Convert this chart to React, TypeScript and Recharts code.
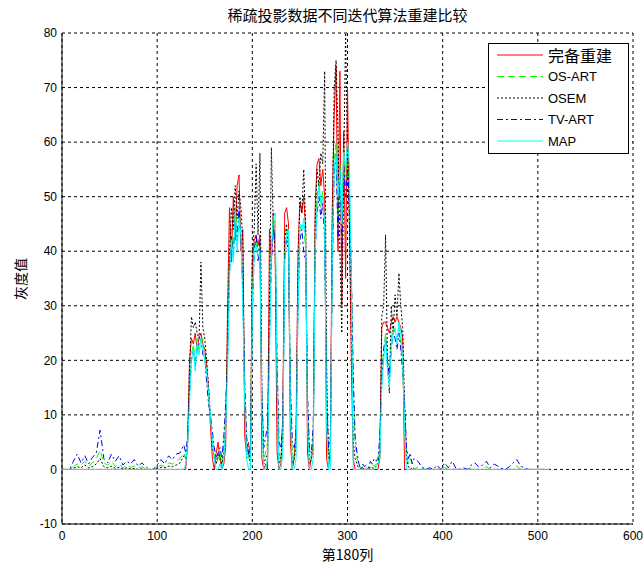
import { LineChart, Line, XAxis, YAxis, CartesianGrid } from 'recharts';

// column index (第180列 profile), sparse at the flat ends, every 2 columns in the object
const cols = [
  0, 4, 8, 12, 16, 20, 24, 28, 32, 36, 40, 44, 48, 52, 56, 60, 64, 68, 72, 76, 80, 84, 88, 92, 96, 100, 104, 108, 112, 116, 120, 124, 128,
  130, 132, 134, 136, 138, 140, 142, 144, 146, 148,
  150, 152, 154, 156, 158, 160, 162, 164, 166, 168,
  170, 172, 174, 176, 178, 180, 182, 184, 186, 188,
  190, 192, 194, 196, 198, 200, 202, 204, 206, 208,
  210, 212, 214, 216, 218, 220, 222, 224, 226, 228,
  230, 232, 234, 236, 238, 240, 242, 244, 246, 248,
  250, 252, 254, 256, 258, 260, 262, 264, 266, 268,
  270, 272, 274, 276, 278, 280, 282, 284, 286, 288,
  290, 292, 294, 296, 298, 300, 302, 304, 306, 308,
  310, 312, 314, 316, 318, 320, 322, 324, 326, 328,
  330, 332, 334, 336, 338, 340, 342, 344, 346, 348,
  350, 352, 354, 356, 358, 360, 362, 364, 366, 368,
  370,
  374, 378, 382, 386, 390, 394, 398, 402, 406, 410, 414, 418, 422, 426, 430, 434, 438, 442, 446, 450,
  454, 458, 462, 466, 470, 474, 478, 482, 486, 490, 494, 498, 502, 506, 510, 512,
];

const fullRecon = [
  0, 0, 0, 0, 0, 0, 0, 0, 0, 0, 0, 0, 0, 0, 0, 0, 0, 0, 0, 0, 0, 0, 0, 0, 0, 0, 0, 0, 0, 0, 0, 0, 0,
  0, 5, 20, 24, 23, 25, 22, 24, 25, 23,
  22, 19, 15, 8, 2, 0, 3, 5, 2, 0,
  1, 4, 30, 48, 38, 50, 42, 52, 54, 40,
  44, 6, 3, 5, 2, 38, 42, 43, 41, 43,
  2, 0, 1, 0, 44, 38, 47, 40, 3, 0,
  1, 10, 47, 48, 45, 5, 0, 2, 8, 40,
  49, 47, 50, 44, 3, 0, 2, 5, 48, 56,
  57, 52, 55, 50, 2, 0, 4, 48, 65, 74,
  40, 73, 30, 62, 35, 70, 45, 20, 2, 0,
  0, 0, 0, 0, 0, 0, 0, 0, 0, 0,
  0, 0, 2, 26, 27, 27, 26, 25, 27, 28,
  27, 28, 27, 26, 24, 0, 0, 0, 0, 0,
  0,
  0, 0, 0, 0, 0, 0, 0, 0, 0, 0, 0, 0, 0, 0, 0, 0, 0, 0, 0, 0,
  0, 0, 0, 0, 0, 0, 0, 0, 0, 0, 0, 0, 0, 0, 0, 0,
];

const osArt = [
  0, 0, 0, 0.5, 1, 0.8, 1.5, 0.6, 1.2, 2, 3.5, 1.2, 0.8, 1.5, 0.5, 1, 0.3, 0.8, 0.4, 0.6, 0.2, 0.5, 0.1, 0, 0, 0.3, 0.8, 0.5, 1.2, 1, 1.5, 2, 3,
  2, 4, 15, 21, 23, 20, 24, 22, 23, 24,
  20, 17, 13, 9, 6, 3, 1, 2, 3, 1,
  5, 10, 22, 38, 44, 40, 48, 43, 47, 44,
  32, 15, 5, 2, 3, 32, 41, 42, 40, 41,
  12, 2, 3, 5, 25, 41, 45, 46, 18, 3,
  2, 6, 40, 44, 43, 14, 3, 2, 5, 32,
  44, 45, 45, 40, 12, 3, 2, 6, 42, 50,
  53, 48, 51, 44, 12, 3, 4, 38, 57, 60,
  45, 56, 42, 59, 52, 58, 50, 38, 15, 5,
  2, 1, 0, 0.5, 0, 0.3, 0, 0.5, 1, 0.5,
  1, 1, 4, 18, 22, 25, 20, 18, 24, 26,
  25, 24, 26, 23, 18, 10, 3, 1, 2, 1,
  0,
  0.5, 0.3, 0, 0, 0, 0, 0, 0.4, 0, 0, 0, 0, 0, 0, 0.3, 0, 0, 0, 0.5, 0,
  0, 0, 0, 0, 0, 0, 0.6, 0, 0, 0, 0, 0, 0, 0, 0, 0,
];

const osem = [
  0, 0, 0, 0.2, 0.5, 0.3, 0.8, 0.3, 0.5, 1, 2, 0.5, 0.3, 0.6, 0.2, 0.4, 0.1, 0.3, 0.1, 0.2, 0, 0.1, 0, 0, 0, 0.2, 0.4, 0.3, 0.6, 0.5, 0.8, 1.2, 2.5,
  2, 5, 18, 28, 26, 27, 25, 24, 38, 26,
  24, 20, 15, 10, 4, 2, 1, 3, 2, 1,
  3, 8, 25, 40, 48, 44, 52, 46, 51, 48,
  42, 12, 2, 3, 1, 40, 44, 56, 43, 58,
  15, 1, 2, 3, 30, 59, 45, 40, 12, 1,
  2, 5, 42, 45, 40, 10, 1, 2, 4, 35,
  50, 47, 55, 45, 10, 1, 2, 3, 45, 55,
  52, 58, 56, 73, 20, 2, 2, 45, 70, 75,
  62, 40, 25, 55, 80, 58, 45, 25, 5, 2,
  1, 0, 0, 0.3, 0, 0, 0, 0.5, 0.3, 0.2,
  0.5, 1, 3, 28, 30, 43, 20, 14, 30, 25,
  32, 28, 36, 30, 26, 12, 2, 0.5, 0, 0.3,
  0,
  0, 0, 0, 0, 0, 0, 0, 0, 0, 0, 0, 0, 0, 0, 0, 0, 0, 0, 0, 0,
  0, 0, 0, 0, 0, 0, 0, 0, 0, 0, 0, 0, 0, 0, 0, 0,
];

const tvArt = [
  0, 0, 0, 1.5, 2.8, 1.2, 2.5, 1, 2.2, 3, 7.2, 2, 1.2, 2.8, 1.5, 2.5, 0.8, 1.5, 1, 1.8, 0.6, 1.2, 0.5, 0, 0, 0.8, 1.8, 1, 2.5, 1.8, 2.8, 3, 4.5,
  3, 6, 14, 20, 22, 19, 22, 23, 24, 21,
  21, 16, 12, 10, 7, 4, 2, 3, 4, 2,
  6, 12, 20, 36, 43, 39, 46, 42, 48, 42,
  33, 16, 6, 3, 4, 28, 40, 43, 38, 42,
  14, 4, 6, 8, 24, 38, 44, 42, 20, 5,
  4, 8, 38, 42, 40, 16, 5, 4, 6, 30,
  42, 44, 40, 38, 14, 4, 3, 8, 40, 47,
  50, 46, 49, 42, 14, 4, 6, 36, 54, 58,
  42, 55, 40, 56, 50, 55, 48, 36, 18, 6,
  3, 1, 0, 1, 0.5, 0.8, 0.3, 1.5, 1, 2,
  1.5, 2, 6, 16, 22, 24, 20, 17, 22, 25,
  24, 22, 25, 22, 18, 12, 4, 2, 3, 1,
  2,
  1.5, 0.5, 0, 0.3, 0, 0.8, 0, 1.2, 0.3, 1.5, 0.2, 0, 0.3, 0, 0.8, 1.2, 0.4, 0.8, 1.5, 0.3,
  1, 0.6, 0.2, 0, 0.5, 1.2, 1.8, 0.6, 0.3, 0, 0, 0, 0, 0, 0, 0,
];

const mapRecon = [
  0, 0, 0, 0, 0, 0, 0, 0, 0, 0, 0, 0, 0, 0, 0, 0, 0, 0, 0, 0, 0, 0, 0, 0, 0, 0, 0, 0, 0, 0, 0, 0, 0,
  1, 5, 12, 20, 22, 18, 23, 21, 24, 22,
  20, 18, 14, 10, 5, 2, 0, 0, 1, 0,
  2, 8, 18, 35, 42, 38, 47, 40, 46, 43,
  30, 12, 2, 0, 0, 30, 40, 41, 39, 40,
  10, 0, 0, 2, 20, 40, 46, 47, 15, 0,
  0, 3, 38, 43, 44, 10, 0, 0, 2, 30,
  45, 44, 46, 42, 8, 0, 0, 2, 40, 48,
  52, 49, 50, 45, 8, 0, 0, 40, 55, 58,
  50, 55, 45, 58, 55, 60, 56, 35, 0, 0,
  0, 0, 0, 0, 0, 0, 0, 0, 0, 0,
  0.5, 1, 2, 15, 20, 24, 18, 15, 22, 25,
  26, 23, 27, 25, 20, 8, 0, 0, 0, 0,
  0,
  0, 0, 0, 0, 0, 0, 0, 0, 0, 0, 0, 0, 0, 0, 0, 0, 0, 0, 0, 0,
  0, 0, 0, 0, 0, 0, 0, 0, 0, 0, 0, 0, 0, 0, 0, 0,
];

const xTicks = [0, 100, 200, 300, 400, 500, 600];
const yTicks = [-10, 0, 10, 20, 30, 40, 50, 60, 70, 80];

const series = [
  { key: 'full', name: '完备重建', color: '#ff0000', dash: undefined },
  { key: 'osart', name: 'OS-ART', color: '#00ff00', dash: '7 4' },
  { key: 'osem', name: 'OSEM', color: '#000000', dash: '2 2' },
  { key: 'tvart', name: 'TV-ART', color: '#0000ff', dash: '6 3 2 3' },
  { key: 'map', name: 'MAP', color: '#00ffff', dash: undefined },
];

const data = cols.map((c, i) => ({
  col: c,
  full: fullRecon[i],
  osart: osArt[i],
  osem: osem[i],
  tvart: tvArt[i],
  map: mapRecon[i],
}));

const latin = '"Liberation Sans", Arial, sans-serif';
const cjk = '"Noto Sans CJK SC", sans-serif';

function LegendBox() {
  return (
    <svg width={141} height={111} style={{ position: 'absolute', left: 488, top: 43 }}>
      <rect x={0.5} y={0.5} width={140} height={110} fill="#fff" stroke="#000" />
      {series.map((s, i) => {
        const y = 12 + i * 21.5;
        return (
          <g key={s.key}>
            <line x1={9} x2={55} y1={y} y2={y} stroke={s.color} strokeDasharray={s.dash} />
            <text
              x={60}
              y={y}
              dominantBaseline="central"
              fontFamily={i === 0 ? cjk : latin}
              fontSize={i === 0 ? 16 : 13}
              fill="#000"
            >
              {s.name}
            </text>
          </g>
        );
      })}
    </svg>
  );
}

export default function App() {
  return (
    <div style={{ position: 'absolute', left: 0, top: 0, width: 643, height: 566, background: '#fff' }}>
      <LineChart width={643} height={566} data={data} margin={{ top: 33, right: 10, bottom: 0, left: 0 }}>
        <CartesianGrid stroke="#000" strokeDasharray="3 3" />
        <XAxis
          dataKey="col"
          type="number"
          domain={[0, 600]}
          ticks={xTicks}
          interval={0}
          tickLine={false}
          tickSize={5}
          tickMargin={2}
          axisLine={{ stroke: '#000' }}
          tick={{ fill: '#000', fontSize: 12, fontFamily: latin }}
          height={42}
        />
        <XAxis xAxisId="top" orientation="top" type="number" domain={[0, 600]} ticks={xTicks} tick={false} tickLine={false} axisLine={{ stroke: '#000' }} height={0} />
        <YAxis
          type="number"
          domain={[-10, 80]}
          ticks={yTicks}
          interval={0}
          tickLine={false}
          tickSize={5}
          tickMargin={0}
          axisLine={{ stroke: '#000' }}
          tick={{ fill: '#000', fontSize: 12, fontFamily: latin }}
          width={62}
        />
        <YAxis yAxisId="right" orientation="right" type="number" domain={[-10, 80]} tick={false} tickLine={false} axisLine={{ stroke: '#000' }} width={0} />
        {series.map((s) => (
          <Line
            key={s.key}
            dataKey={s.key}
            name={s.name}
            type="linear"
            stroke={s.color}
            strokeDasharray={s.dash}
            strokeWidth={1}
            dot={false}
            activeDot={false}
            isAnimationActive={false}
          />
        ))}
      </LineChart>
      <div style={{ position: 'absolute', left: 0, width: 695, top: 5, textAlign: 'center', fontFamily: cjk, fontSize: 15, lineHeight: '20px' }}>
        稀疏投影数据不同迭代算法重建比较
      </div>
      <div style={{ position: 'absolute', left: 0, width: 695, top: 545, textAlign: 'center', fontFamily: cjk, fontSize: 14, lineHeight: '18px' }}>
        第180列
      </div>
      <div
        style={{
          position: 'absolute',
          left: 20,
          top: 279,
          transform: 'translate(-50%, -50%) rotate(-90deg)',
          fontFamily: cjk,
          fontSize: 14,
          lineHeight: '18px',
          whiteSpace: 'nowrap',
        }}
      >
        灰度值
      </div>
      <LegendBox />
    </div>
  );
}
